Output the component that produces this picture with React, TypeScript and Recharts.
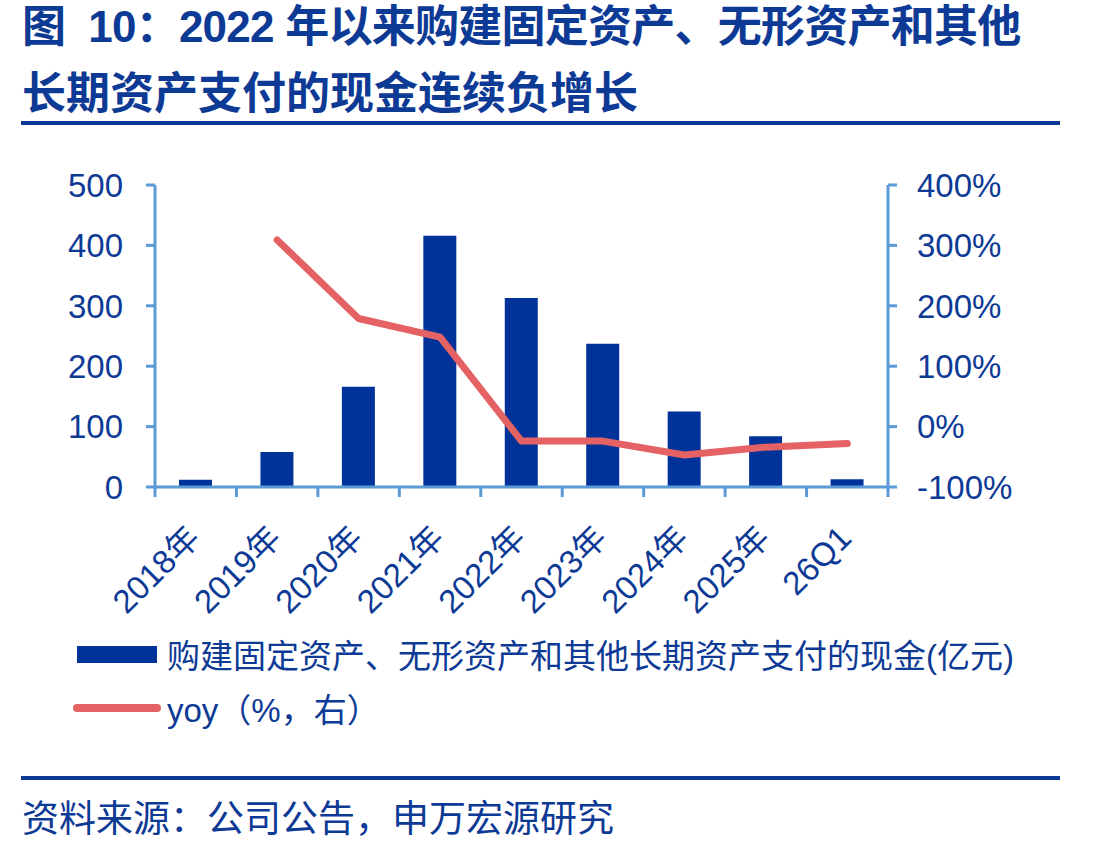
import React from "react"
import { ComposedChart, Bar, Line, XAxis, YAxis } from "recharts"

// 年度数据：购建固定资产、无形资产和其他长期资产支付的现金（亿元）及同比
const categories = ["2018年", "2019年", "2020年", "2021年", "2022年", "2023年", "2024年", "2025年", "26Q1"]
const cashPaid = [12, 58, 166, 416, 313, 237, 125, 84, 13]
const yoyPct: (number | null)[] = [null, 309, 179, 148, -24, -24, -47, -34, -28]

const leftTicks = [0, 100, 200, 300, 400, 500]
const rightTicks = [-100, 0, 100, 200, 300, 400]

const titleLines = ["图  10：2022 年以来购建固定资产、无形资产和其他", "长期资产支付的现金连续负增长"]
const legendBar = "购建固定资产、无形资产和其他长期资产支付的现金(亿元)"
const legendLine = "yoy（%，右）"
const sourceText = "资料来源：公司公告，申万宏源研究"

const data = categories.map((name, i) => ({ name, cash: cashPaid[i], yoy: yoyPct[i] }))

const FONT = "'Liberation Sans', Arial, 'Noto Sans CJK SC', sans-serif"
const TEXT = "#0D3A95"
const BAR = "#003399"
const AXIS = "#5B9BD5"
const RED = "#E46264"

// 类目标签斜放，刻度线画在类目之间
const CategoryTick = ({ x, y, payload, index }: any) => {
  const half = payload.offset || 0
  const ax = x + 6
  const ay = y + 53
  return (
    <g>
      <line x1={x - half} y1={y} x2={x - half} y2={y + 10} stroke={AXIS} strokeWidth={3} />
      {index === categories.length - 1 && (
        <line x1={x + half} y1={y} x2={x + half} y2={y + 10} stroke={AXIS} strokeWidth={3} />
      )}
      <text
        x={ax}
        y={ay}
        transform={`rotate(-45, ${ax}, ${ay})`}
        textAnchor="end"
        fill={TEXT}
        fontSize={33}
        fontFamily={FONT}
      >
        {payload.value}
      </text>
    </g>
  )
}

export default function App() {
  return (
    <div
      style={{
        position: "absolute",
        left: 0,
        top: 0,
        width: 1106,
        height: 854,
        background: "#fff",
        overflow: "hidden",
        fontFamily: FONT,
        color: TEXT,
      }}
    >
      {/* 标题 */}
      {titleLines.map((t, i) => (
        <div
          key={i}
          style={{
            position: "absolute",
            left: 22,
            top: 5 + i * 67,
            fontSize: 44,
            lineHeight: "44px",
            fontWeight: 700,
            whiteSpace: "pre",
            letterSpacing: i === 0 ? -0.75 : 0,
          }}
        >
          {t}
        </div>
      ))}
      <div style={{ position: "absolute", left: 21, top: 121, width: 1039, height: 4, background: TEXT }} />

      <div style={{ position: "absolute", left: 0, top: 0 }}>
        <ComposedChart width={1106} height={640} data={data} margin={{ top: 185, right: 0, bottom: 0, left: 0 }}>
          <XAxis
            xAxisId="cat"
            dataKey="name"
            height={153}
            axisLine={{ stroke: AXIS, strokeWidth: 3 }}
            tickLine={false}
            tickSize={0}
            tickMargin={0}
            interval={0}
            tick={<CategoryTick />}
          />
          <YAxis
            yAxisId="left"
            orientation="left"
            width={155}
            domain={[0, 500]}
            ticks={leftTicks}
            axisLine={{ stroke: AXIS, strokeWidth: 3 }}
            tickLine={{ stroke: AXIS, strokeWidth: 3 }}
            tickSize={9}
            tickMargin={23}
            tick={{ fill: TEXT, fontSize: 33, fontFamily: FONT }}
          />
          <YAxis
            yAxisId="right"
            orientation="right"
            width={218}
            domain={[-100, 400]}
            ticks={rightTicks}
            tickFormatter={(v: number) => `${v}%`}
            axisLine={{ stroke: AXIS, strokeWidth: 3 }}
            tickLine={{ stroke: AXIS, strokeWidth: 3 }}
            tickSize={9}
            tickMargin={20}
            tick={{ fill: TEXT, fontSize: 33, fontFamily: FONT }}
          />
          <Bar xAxisId="cat" yAxisId="left" dataKey="cash" fill={BAR} barSize={33} isAnimationActive={false} />
          <Line
            xAxisId="cat"
            yAxisId="right"
            dataKey="yoy"
            stroke={RED}
            strokeWidth={7}
            strokeLinecap="round"
            strokeLinejoin="round"
            dot={false}
            activeDot={false}
            isAnimationActive={false}
          />
        </ComposedChart>
      </div>

      {/* 图例 */}
      <div style={{ position: "absolute", left: 77, top: 646, width: 80, height: 17, background: BAR }} />
      <div style={{ position: "absolute", left: 167, top: 640, fontSize: 33, lineHeight: "33px", whiteSpace: "pre" }}>
        {legendBar}
      </div>
      <div style={{ position: "absolute", left: 73, top: 704, width: 88, height: 8, borderRadius: 4, background: RED }} />
      <div style={{ position: "absolute", left: 167, top: 694, fontSize: 33, lineHeight: "33px", whiteSpace: "pre" }}>
        {legendLine}
      </div>

      {/* 资料来源 */}
      <div style={{ position: "absolute", left: 21, top: 776, width: 1039, height: 4, background: TEXT }} />
      <div style={{ position: "absolute", left: 22, top: 801, fontSize: 37, lineHeight: "37px", whiteSpace: "pre" }}>
        {sourceText}
      </div>
    </div>
  )
}
